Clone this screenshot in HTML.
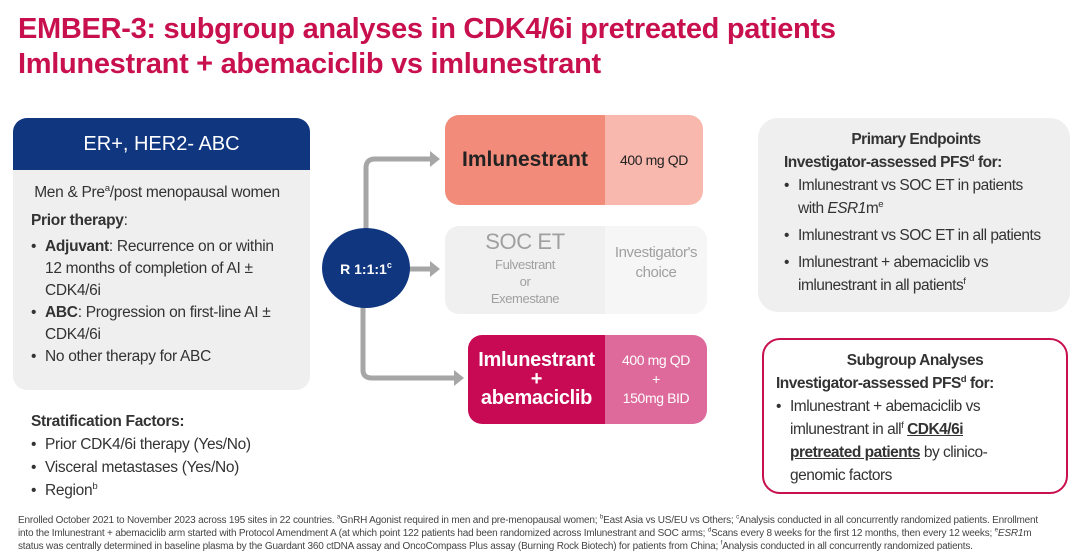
<!DOCTYPE html>
<html><head><meta charset="utf-8"><style>
*{margin:0;padding:0;box-sizing:border-box}
body{width:1080px;height:559px;background:#fff;font-family:"Liberation Sans",Arial,sans-serif;position:relative;overflow:hidden;color:#333}
.a{position:absolute}
h1{position:absolute;left:18px;top:12px;font-size:29px;line-height:35px;color:#c8104f;font-weight:bold;letter-spacing:-0.3px}
sup{font-size:62%;vertical-align:super;line-height:0}
.lt{font-size:15.5px;line-height:22px;color:#333;letter-spacing:-0.3px;white-space:nowrap}
ul{list-style:none}
li{position:relative;padding-left:14px}
li:before{content:"•";position:absolute;left:0}
.ft div{white-space:nowrap}
</style></head><body>
<h1>EMBER-3: subgroup analyses in CDK4/6i pretreated patients<br>Imlunestrant + abemaciclib vs imlunestrant</h1>

<div class="a" style="left:13px;top:118px;width:297px;height:272px;background:#efeff0;border-radius:14px;overflow:hidden">
 <div style="height:52px;background:#10367f;color:#fff;font-size:20px;text-align:center;line-height:52px">ER+, HER2- ABC</div>
</div>
<div class="a lt" style="left:31px;top:182px;width:270px">
 <div style="text-align:center;margin-left:-18px">Men &amp; Pre<sup>a</sup>/post menopausal women</div>
 <div style="margin-top:6px"><b>Prior therapy</b>:</div>
 <ul style="margin-top:4px"><li><b>Adjuvant</b>: Recurrence on or within<br>12 months of completion of AI ±<br>CDK4/6i</li>
 <li><b>ABC</b>: Progression on first-line AI ±<br>CDK4/6i</li>
 <li>No other therapy for ABC</li></ul>
</div>
<div class="a lt" style="left:31px;top:410px;width:280px;line-height:23px">
 <div style="font-weight:bold">Stratification Factors:</div>
 <ul><li>Prior CDK4/6i therapy (Yes/No)</li><li>Visceral metastases (Yes/No)</li><li>Region<sup>b</sup></li></ul>
</div>

<svg class="a" style="left:0;top:0" width="1080" height="559">
 <g fill="none" stroke="#a6a6a6" stroke-width="5">
  <path d="M366 232 V168 Q366 159 375 159 H432"/>
  <path d="M408 269 H432"/>
  <path d="M363 305 V370 Q363 378 372 378 H456"/>
 </g>
 <g fill="#a6a6a6">
  <polygon points="430,151 440,159 430,167"/>
  <polygon points="430,261 440,269 430,277"/>
  <polygon points="454,370 464,378 454,386"/>
 </g>
 <ellipse cx="366" cy="268" rx="44" ry="40" fill="#10367f"/>
 <text x="366" y="274" fill="#fff" font-size="14" font-weight="bold" text-anchor="middle" font-family="Liberation Sans">R 1:1:1<tspan font-size="9" dy="-6">c</tspan></text>
</svg>

<div class="a" style="left:445px;top:115px;width:258px;height:90px;border-radius:14px;overflow:hidden;display:flex">
 <div style="width:160px;background:#f28b79;display:flex;align-items:center;justify-content:center;font-size:21px;font-weight:bold;color:#222">Imlunestrant</div>
 <div style="flex:1;background:#f9b8ad;display:flex;align-items:center;justify-content:center;font-size:14px;color:#222;letter-spacing:-0.4px">400 mg QD</div>
</div>
<div class="a" style="left:445px;top:226px;width:262px;height:88px;border-radius:14px;overflow:hidden;display:flex;color:#a0a0a0;letter-spacing:-0.4px">
 <div style="width:160px;background:#f0f0f0;text-align:center">
  <div style="font-size:22px;margin-top:3px">SOC ET</div>
  <div style="font-size:13px;line-height:17px;margin-top:1px">Fulvestrant<br>or<br>Exemestane</div></div>
 <div style="flex:1;background:#f6f6f6;display:flex;align-items:center;justify-content:center;text-align:center;font-size:15px;line-height:20px;padding-bottom:14px">Investigator's<br>choice</div>
</div>
<div class="a" style="left:468px;top:335px;width:239px;height:89px;border-radius:14px;overflow:hidden;display:flex;color:#fff">
 <div style="width:137px;background:#c70a53;display:flex;align-items:center;justify-content:center;text-align:center;font-size:20px;font-weight:bold;line-height:19px;letter-spacing:-0.3px">Imlunestrant<br>+<br>abemaciclib</div>
 <div style="flex:1;background:#de6a9c;display:flex;align-items:center;justify-content:center;text-align:center;font-size:14px;line-height:19px;letter-spacing:-0.4px">400 mg QD<br>+<br>150mg BID</div>
</div>

<div class="a lt" style="left:758px;top:118px;width:312px;height:194px;background:#efeff0;border-radius:20px;padding:10px 10px 0 26px;font-size:15.5px;line-height:23px;letter-spacing:-0.5px">
 <div style="text-align:center;font-weight:bold;margin-left:-12px">Primary Endpoints</div>
 <div style="font-weight:bold">Investigator-assessed PFS<sup>d</sup> for:</div>
 <ul><li>Imlunestrant vs SOC ET in patients<br>with <i>ESR1</i>m<sup>e</sup></li>
 <li style="margin-top:4px">Imlunestrant vs SOC ET in all patients</li>
 <li style="margin-top:4px">Imlunestrant + abemaciclib vs<br>imlunestrant in all patients<sup>f</sup></li></ul>
</div>
<div class="a lt" style="left:762px;top:338px;width:306px;height:156px;border:2px solid #c8104f;border-radius:18px;padding:9px 12px 0 12px;font-size:15.5px;line-height:23px;letter-spacing:-0.5px">
 <div style="text-align:center;font-weight:bold">Subgroup Analyses</div>
 <div style="font-weight:bold">Investigator-assessed PFS<sup>d</sup> for:</div>
 <ul><li>Imlunestrant + abemaciclib vs<br>imlunestrant in all<sup>f</sup> <b><u>CDK4/6i</u></b><br><b><u>pretreated patients</u></b> by clinico-<br>genomic factors</li></ul>
</div>

<div class="a ft" style="left:18px;top:514px;font-size:10px;line-height:13px;color:#444;letter-spacing:-0.2px">
<div>Enrolled October 2021 to November 2023 across 195 sites in 22 countries. <sup>a</sup>GnRH Agonist required in men and pre-menopausal women; <sup>b</sup>East Asia vs US/EU vs Others; <sup>c</sup>Analysis conducted in all concurrently randomized patients. Enrollment</div>
<div>into the Imlunestrant + abemaciclib arm started with Protocol Amendment A (at which point 122 patients had been randomized across Imlunestrant and SOC arms; <sup>d</sup>Scans every 8 weeks for the first 12 months, then every 12 weeks; <sup>e</sup><i>ESR1</i>m</div>
<div>status was centrally determined in baseline plasma by the Guardant 360 ctDNA assay and OncoCompass Plus assay (Burning Rock Biotech) for patients from China; <sup>f</sup>Analysis conducted in all concurrently randomized patients.</div>
</div>
</body></html>
